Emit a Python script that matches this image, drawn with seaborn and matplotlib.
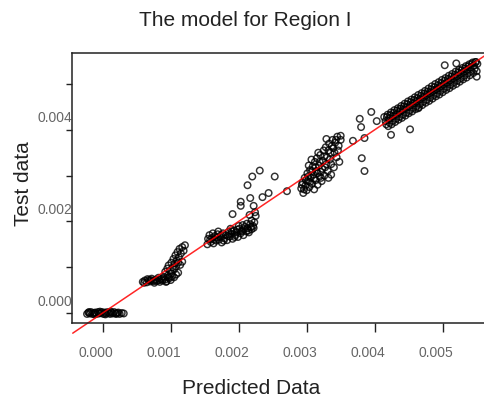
import matplotlib
matplotlib.use("Agg")
import matplotlib.pyplot as plt
import matplotlib.transforms as mtransforms
import numpy as np
import pandas as pd
import seaborn as sns

# values, in units of 1e-3
pred_a = [-0.23, -0.21, -0.19, -0.17, -0.15, -0.13, -0.11, -0.09, -0.07, -0.05, -0.03,
          -0.01, 0.01, 0.03, 0.05, 0.07, 0.09, 0.11, 0.13, 0.15, 0.17, 0.19, 0.21, 0.23,
          0.25, 0.28, 0.31, -0.20, -0.12, -0.04, 0.04, 0.12, 0.20]
test_a = [-0.02, 0.01, -0.01, 0.02, -0.02, 0.00, 0.01, -0.02, 0.02, -0.01, 0.00,
          0.02, -0.02, 0.01, -0.01, 0.02, 0.00, -0.02, 0.01, -0.01, 0.02, -0.01, 0.00, 0.01,
          -0.02, 0.00, -0.01, 0.02, -0.03, 0.03, -0.03, 0.03, -0.02]

pred_b = [0.59, 0.62, 0.65, 0.68, 0.70, 0.72, 0.74, 0.76, 0.78, 0.80, 0.82, 0.84, 0.86,
          0.88, 0.90, 0.92, 0.94, 0.96, 0.98, 1.00, 1.02, 1.05, 1.08, 1.11,
          0.92, 0.95, 0.97, 0.99, 1.01, 1.03, 1.04, 1.06, 1.07, 1.09, 1.10, 1.12, 1.13,
          1.15, 1.17, 1.19, 1.21, 1.14, 1.17,
          0.61, 0.66, 0.71, 0.77, 0.83, 0.89, 0.93, 0.97, 1.01, 1.05, 1.08, 1.11]
test_b = [0.68, 0.71, 0.67, 0.72, 0.69, 0.75, 0.70, 0.66, 0.73, 0.70, 0.77, 0.68, 0.74,
          0.71, 0.79, 0.73, 0.69, 0.82, 0.76, 0.72, 0.80, 0.78, 0.84, 0.88,
          0.90, 0.97, 1.04, 0.93, 1.10, 1.00, 1.18, 1.08, 1.26, 1.15, 1.33, 1.22, 1.40,
          1.30, 1.44, 1.36, 1.48, 1.05, 1.12,
          0.66, 0.74, 0.72, 0.70, 0.72, 0.75, 0.68, 0.78, 0.86, 0.95, 1.02, 1.10]

pred_c = [1.54, 1.55, 1.57, 1.59, 1.61, 1.63, 1.65, 1.67, 1.69, 1.71, 1.73, 1.75, 1.77,
          1.79, 1.81, 1.83, 1.85, 1.87, 1.89, 1.91, 1.93, 1.95, 1.97, 1.99, 2.01, 2.03,
          2.05, 2.07, 2.09, 2.11, 2.13, 2.15, 2.17, 2.19, 2.21, 2.23, 2.12, 2.00, 1.88,
          1.70, 1.62,
          1.58, 1.64, 1.68, 1.74, 1.78, 1.84, 1.90, 1.94, 1.98, 2.04, 2.08, 2.14, 2.18,
          2.22, 2.06,
          2.31, 2.20, 2.13, 2.53, 2.03, 2.03, 2.17, 2.35, 2.44, 2.71, 1.91, 2.22, 2.16,
          2.25, 2.19, 2.24]
test_c = [1.50, 1.62, 1.70, 1.55, 1.64, 1.52, 1.68, 1.58, 1.72, 1.60, 1.66, 1.54, 1.74,
          1.63, 1.70, 1.59, 1.77, 1.67, 1.73, 1.62, 1.80, 1.70, 1.76, 1.66, 1.84, 1.74,
          1.80, 1.70, 1.88, 1.78, 1.85, 1.76, 1.94, 1.83, 1.90, 1.98, 1.95, 1.90, 1.84,
          1.78, 1.74,
          1.60, 1.60, 1.65, 1.70, 1.58, 1.68, 1.78, 1.66, 1.82, 1.78, 1.83, 1.80, 1.88,
          1.86, 1.92,
          3.11, 2.98, 2.79, 2.98, 2.43, 2.34, 2.51, 2.53, 2.62, 2.66, 2.16, 2.34, 2.14,
          2.12, 2.02, 2.20]

pred_d = [2.92, 2.94, 2.95, 2.97, 2.98, 3.00, 3.01, 3.02, 3.04, 3.05, 3.06, 3.08, 3.09,
          3.10, 3.11, 3.12, 3.13, 3.14, 3.15, 3.16, 3.18, 3.19, 3.20, 3.21, 3.22, 3.24,
          3.25, 3.26, 3.27, 3.28, 3.30, 3.31, 3.32, 3.33, 3.35, 3.36, 3.38, 3.39, 3.40,
          3.42, 3.44, 3.45, 3.47, 3.48, 3.50, 3.03, 3.07, 3.17, 3.29, 3.36,
          2.93, 2.96, 2.99, 3.02, 3.05, 3.08, 3.11, 3.13, 3.16, 3.19, 3.21, 3.23, 3.26,
          3.29, 3.32, 3.34, 3.37, 3.41, 3.43, 3.46,
          3.50, 3.68, 3.85, 3.78, 3.80, 3.95, 4.03, 3.81, 3.85, 4.24]
test_d = [2.72, 2.85, 2.62, 2.95, 2.78, 2.68, 3.05, 2.88, 2.75, 3.12, 2.96, 2.82, 3.20,
          3.02, 2.70, 3.30, 2.90, 3.10, 3.38, 2.80, 3.22, 2.98, 3.45, 3.08, 2.88, 3.32,
          3.55, 3.00, 3.18, 3.62, 3.40, 3.10, 2.95, 3.70, 3.50, 3.25, 3.78, 3.60, 3.18,
          3.72, 3.40, 3.85, 3.65, 3.30, 3.78, 3.22, 3.35, 3.50, 3.80, 3.02,
          2.80, 2.70, 2.90, 2.98, 2.86, 3.10, 2.94, 3.18, 3.05, 3.30, 2.95, 3.15, 3.42,
          3.25, 3.55, 3.35, 3.65, 3.50, 3.78, 3.55,
          3.87, 3.76, 3.82, 4.24, 4.06, 4.39, 4.19, 3.38, 3.10, 3.89]

pred_e = [4.14, 4.16, 4.17, 4.19, 4.21, 4.22, 4.24, 4.26, 4.27, 4.29, 4.31, 4.32,
          4.34, 4.36, 4.37, 4.39, 4.41, 4.42, 4.44, 4.46, 4.47, 4.49, 4.51, 4.52,
          4.54, 4.56, 4.57, 4.59, 4.61, 4.62, 4.64, 4.66, 4.67, 4.69, 4.71, 4.72,
          4.74, 4.76, 4.77, 4.79, 4.81, 4.82, 4.84, 4.86, 4.87, 4.89, 4.91, 4.92,
          4.94, 4.96, 4.97, 4.99, 5.01, 5.02, 5.04, 5.06, 5.07, 5.09, 5.11, 5.12,
          5.14, 5.16, 5.17, 5.19, 5.21, 5.22, 5.24, 5.26, 5.27, 5.29, 5.31, 5.32,
          5.34, 5.36, 5.37, 5.39, 5.41, 5.42, 5.44, 5.46, 5.47, 5.49, 5.51,
          4.18, 4.23, 4.28, 4.33, 4.38, 4.43, 4.48, 4.53, 4.58, 4.63, 4.68, 4.73, 4.78,
          4.83, 4.88, 4.93, 4.98, 5.03, 5.08, 5.13, 5.18, 5.23, 5.28, 5.33, 5.38, 5.43,
          5.48,
          4.20, 4.25, 4.30, 4.35, 4.40, 4.45, 4.50, 4.55, 4.60, 4.65, 4.70, 4.75, 4.80,
          4.85, 4.90, 4.95, 5.00, 5.05, 5.10, 5.15, 5.20, 5.25, 5.30, 5.35, 5.40, 5.45,
          5.50,
          5.03, 5.20, 5.50, 4.52, 4.64]
test_e = [4.28, 4.19, 4.12, 4.33, 4.24, 4.15, 4.38, 4.29, 4.20, 4.43, 4.33, 4.25,
          4.47, 4.39, 4.29, 4.52, 4.43, 4.34, 4.57, 4.48, 4.38, 4.62, 4.52, 4.43,
          4.66, 4.57, 4.48, 4.71, 4.62, 4.52, 4.76, 4.66, 4.57, 4.80, 4.71, 4.62,
          4.85, 4.76, 4.66, 4.90, 4.80, 4.71, 4.95, 4.85, 4.76, 5.00, 4.89, 4.80,
          5.04, 4.94, 4.85, 5.09, 4.99, 4.90, 5.13, 5.03, 4.94, 5.18, 5.08, 4.99,
          5.22, 5.13, 5.04, 5.27, 5.17, 5.08, 5.31, 5.22, 5.13, 5.35, 5.27, 5.18,
          5.39, 5.31, 5.23, 5.43, 5.36, 5.28, 5.47, 5.40, 5.33, 5.48, 5.44,
          4.28, 4.32, 4.37, 4.42, 4.46, 4.51, 4.56, 4.60, 4.65, 4.69, 4.74, 4.79, 4.83,
          4.88, 4.93, 4.97, 5.02, 5.07, 5.11, 5.16, 5.20, 5.25, 5.30, 5.34, 5.39, 5.44,
          5.48,
          4.08, 4.12, 4.17, 4.22, 4.26, 4.31, 4.36, 4.40, 4.45, 4.49, 4.54, 4.59, 4.63,
          4.68, 4.73, 4.77, 4.82, 4.87, 4.91, 4.96, 5.00, 5.05, 5.10, 5.14, 5.19, 5.24,
          5.28,
          5.41, 5.45, 5.16, 4.01, 4.47]

line_x = [-0.44, 5.68]
line_y = [-0.44, 5.68]

x_ticks = [0.000, 0.001, 0.002, 0.003, 0.004, 0.005]
x_tick_labels = ["0.000", "0.001", "0.002", "0.003", "0.004", "0.005"]
y_ticks = [0.000, 0.001, 0.002, 0.003, 0.004, 0.005]
y_tick_labels = ["0.000", "", "0.002", "", "0.004", ""]

df = pd.DataFrame({
    "Predicted": np.array(pred_a + pred_b + pred_c + pred_d + pred_e) * 1e-3,
    "Test": np.array(test_a + test_b + test_c + test_d + test_e) * 1e-3,
})

sns.set_style("ticks")
plt.rcParams["font.family"] = ["Liberation Sans", "DejaVu Sans"]

fig = plt.figure(figsize=(4.84, 3.98), dpi=100)
ax = fig.add_axes([72 / 484, 75 / 398, 420 / 484, 270 / 398])

sns.scatterplot(data=df, x="Predicted", y="Test", ax=ax, marker="o",
                facecolors="none", edgecolor="black", s=22, linewidth=1.05, alpha=0.8)
ax.plot(np.array(line_x) * 1e-3, np.array(line_y) * 1e-3, color="red",
        linewidth=1.1, alpha=0.85, clip_on=False)

ax.set_xlim(-0.000451, 0.005725)
ax.set_ylim(-0.000218, 0.005677)
ax.set_xticks(x_ticks)
ax.set_xticklabels(x_tick_labels)
ax.set_yticks(y_ticks)
ax.set_yticklabels(y_tick_labels)
ax.set_xlabel("")
ax.set_ylabel("")

for side in ["left", "bottom", "top", "right"]:
    ax.spines[side].set_visible(True)
    ax.spines[side].set_linewidth(1.1)
    ax.spines[side].set_color("#222222")

ax.tick_params(axis="x", direction="out", length=6.5, width=1.0, pad=10,
               labelsize=10, labelcolor="#666666", color="#222222")
ax.tick_params(axis="y", direction="out", length=4.3, width=1.0, pad=0,
               labelsize=10, labelcolor="#666666", color="#222222")

for lab in ax.get_xticklabels():
    lab.set_transform(lab.get_transform()
                      + mtransforms.ScaledTranslation(-0.07, 0, fig.dpi_scale_trans))
for lab in ax.get_yticklabels():
    lab.set_transform(lab.get_transform()
                      + mtransforms.ScaledTranslation(0.065, 0.13, fig.dpi_scale_trans))

fig.text(245 / 484, 1 - 20 / 398, "The model for Region I", ha="center", va="center",
         fontsize=15, color="#222222")
fig.text(251 / 484, 1 - 389 / 398, "Predicted Data", ha="center", va="center",
         fontsize=15, color="#222222")
fig.text(23.5 / 484, 1 - 184 / 398, "Test data", ha="center", va="center",
         rotation=90, fontsize=15, color="#222222")

fig.savefig("out.png", dpi=100)
